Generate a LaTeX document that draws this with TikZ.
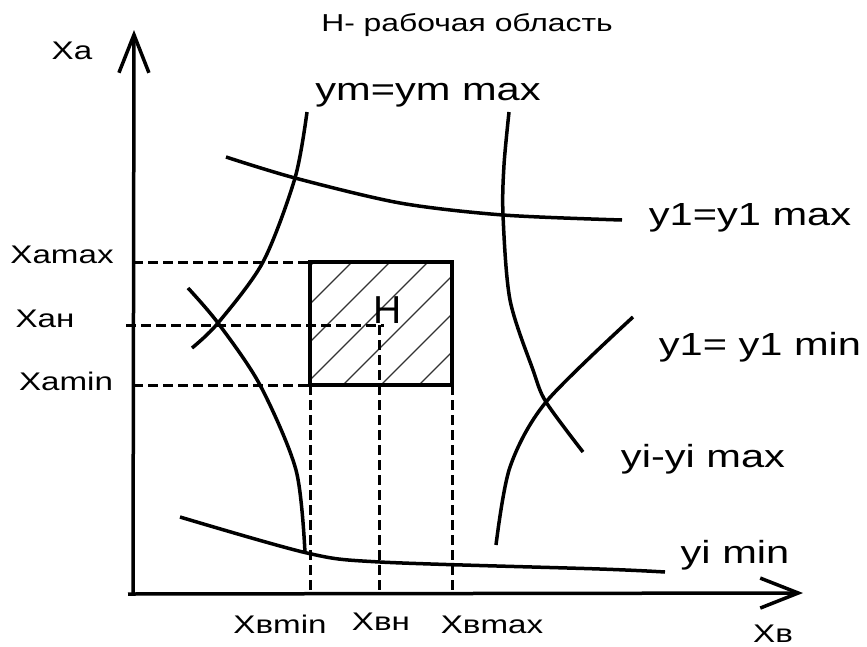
\documentclass[tikz,border=0pt]{standalone}
\usepackage{fontspec}
\setmainfont[FakeStretch=1.3]{Liberation Sans}
\newfontfamily\plainsans{Liberation Sans}
\usetikzlibrary{arrows.meta}

\begin{document}
\begin{tikzpicture}[x=1pt,y=-1pt,
 axis/.style={line width=3.5pt,-{Straight Barb[length=38pt,width=30pt]}},
 curve/.style={line width=3.5pt},
 guide/.style={line width=3pt,dash pattern=on 10pt off 5pt},
 hatch/.style={line width=1.2pt,black!80},
 lbl/.style={inner sep=0pt,anchor=base,font=\fontsize{25.5}{30}\selectfont},
 big/.style={lbl,font=\fontsize{32}{38}\selectfont}]
\useasboundingbox (0,0) rectangle (867,646);
\coordinate (O) at (133,594);
\coordinate (xs) at (128,594);
\coordinate (ytip) at (134,30);
\coordinate (xtip) at (803,593);
\draw[axis] (O) -- (ytip);
\draw[axis] (xs) -- (xtip);
\begin{scope}
\clip (310,262) rectangle (452,385);
\foreach \c in {576,614,652,690,728,766,804,842}
 \draw[hatch] (\c-250,250) -- (\c-400,400);
\end{scope}
\draw[line width=4pt] (310,262) rectangle (452,385);
\draw[guide] (133,262) -- (310,262);
\draw[guide] (126,325) -- (384,325);
\draw[guide] (133,385) -- (310,385);
\draw[guide] (310,385) -- (310,594);
\draw[guide] (379,325) -- (379,594);
\draw[guide] (452,385) -- (452,594);
\draw[curve] plot[smooth] coordinates {(307,112) (295,178) (263,262) (218,323) (192,348)};
\draw[curve] plot[smooth] coordinates {(188,288) (218,323) (260,385) (296,470) (305,553)};
\draw[curve] plot[smooth] coordinates {(226,157) (295,178) (400,203) (503,215) (622,220)};
\draw[curve] plot[smooth] coordinates {(509,112) (504,165) (503,215) (510,300) (533,370) (546,402) (583,452)};
\draw[curve] plot[smooth] coordinates {(633,317) (546,402) (510,467) (496,545)};
\draw[curve] plot[smooth] coordinates {(180,517) (307,553) (380,562) (600,569) (665,572)};
\node[lbl,font=\fontsize{24.5}{30}\selectfont] (title) at (467,31) {Н- рабочая область};
\node[big] (ymmax) at (428,100) {ym=ym max};
\node[big] (y1max) at (750,225) {y1=y1 max};
\node[big] (y1min) at (760,355) {y1= y1 min};
\node[big] (yimax) at (703,467) {yi-yi max};
\node[big] (yimin) at (735,563) {yi min};
\node[lbl] (xa) at (72,59) {Xa};
\node[lbl] (xb) at (773,642) {Xв};
\node[lbl] (xamax) at (62,263) {Xamax};
\node[lbl] (xan) at (45,327) {Xaн};
\node[lbl] (xamin) at (66,390) {Xamin};
\node[lbl] (xbmin) at (280,633) {Xвmin};
\node[lbl] (xbn) at (381,630) {Xвн};
\node[lbl] (xbmax) at (492,633) {Xвmax};
\node[lbl,font=\plainsans\fontsize{39}{40}\selectfont] (hlab) at (388,323) {H};
\end{tikzpicture}
\end{document}
